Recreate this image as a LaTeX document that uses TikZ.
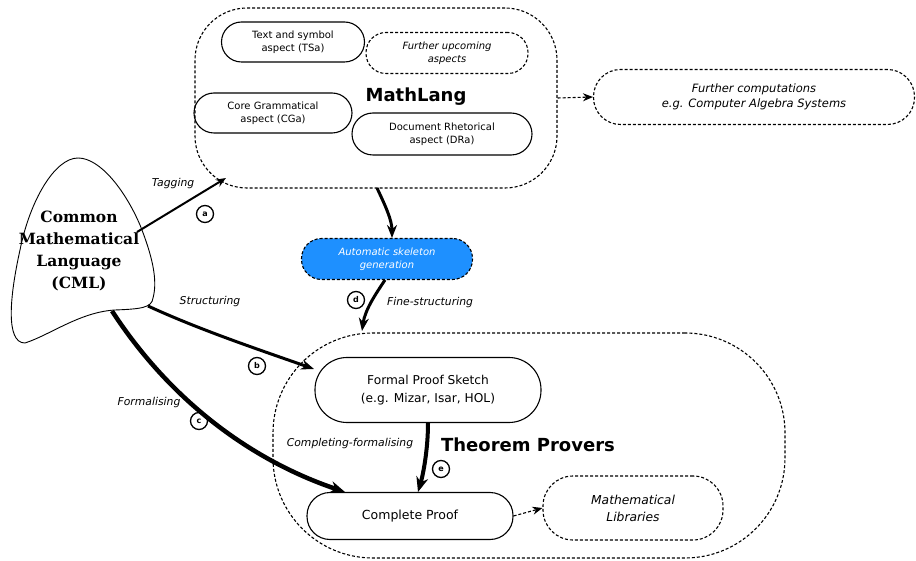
\documentclass[tikz,border=0pt]{standalone}
\usepackage{fontspec}
\setmainfont{DejaVu Sans}
\newfontfamily\cmlfont{DejaVu Serif}
\usetikzlibrary{arrows.meta}
\definecolor{skelblue}{HTML}{1E90FF}
\tikzset{
  dsh/.style={dash pattern=on 3pt off 2pt},
  pill/.style={draw, line width=1.1pt, align=center, inner sep=0pt, font=\fontsize{10}{12.5}\selectfont},
  dpill/.style={pill, dsh},
  cont/.style={draw, line width=1.1pt, dsh, inner sep=0pt},
  lbl/.style={font=\fontsize{10.8}{12}\selectfont\itshape},
  circ/.style={draw, circle, line width=1.3pt, minimum size=17pt, inner sep=0pt, font=\fontsize{8}{8}\selectfont\bfseries},
  big/.style={font=\fontsize{18}{20}\selectfont\bfseries},
  tipS/.style={-{Stealth[length=10pt,width=8pt]}},
  tipM/.style={-{Stealth[length=13pt,width=10pt]}},
  tipL/.style={-{Stealth[length=15pt,width=12pt]}},
}
\begin{document}
\begin{tikzpicture}[x=1pt,y=-1pt]
\useasboundingbox (0,0) rectangle (916,561);

% CML blob
\draw[line width=0.9pt] (78,158) .. controls (55,158) and (30,200) .. (20,250)
  .. controls (10,295) and (5,343) .. (25,343)
  .. controls (50,335) and (80,312) .. (115,310)
  .. controls (140,309) and (152,308) .. (153,298)
  .. controls (158,280) and (152,255) .. (140,225)
  .. controls (125,190) and (100,158) .. (78,158) -- cycle;
\node[align=center, font=\fontsize{15.5}{22}\selectfont\cmlfont\bfseries] (cml) at (79,251) {Common\\Mathematical\\Language\\(CML)};
\coordinate (cmlA) at (137,232);
\coordinate (cmlB) at (148,306);
\coordinate (cmlC) at (112,311);

% MathLang container
\node[cont, rounded corners=52pt, minimum width=362pt, minimum height=180pt] (ml) at (376,98) {};
\node[big] (mllbl) at (416,97) {MathLang};
\node[pill, rounded corners=20pt, minimum width=143pt, minimum height=40pt] (tsa) at (293,42) {Text and symbol\\aspect (TSa)};
\node[dpill, rounded corners=20pt, minimum width=162pt, minimum height=41pt, font=\fontsize{10}{12.5}\selectfont\itshape] (fua) at (447,53) {Further upcoming\\aspects};
\node[pill, rounded corners=20pt, minimum width=158pt, minimum height=40pt] (cga) at (273,113) {Core Grammatical\\aspect (CGa)};
\node[pill, rounded corners=21pt, minimum width=180pt, minimum height=42pt] (dra) at (442,134) {Document Rhetorical\\aspect (DRa)};

% Further computations
\node[dpill, rounded corners=27pt, minimum width=321pt, minimum height=55pt, font=\fontsize{11.5}{15.5}\selectfont\itshape] (fc) at (754,97) {Further computations\\e.g. Computer Algebra Systems};
\draw[line width=1.1pt, dsh, tipS] (ml.east) -- (fc.west);

% Skeleton
\node[dpill, fill=skelblue, text=white, rounded corners=20pt, minimum width=171pt, minimum height=41pt, font=\fontsize{10}{12.5}\selectfont\itshape] (skel) at (387,259) {Automatic skeleton\\generation};

% Theorem provers container
\node[cont, rounded corners=100pt, minimum width=512pt, minimum height=225pt] (tp) at (529,445.5) {};
\node[big] (tplbl) at (528,445) {Theorem Provers};
\node[pill, rounded corners=32pt, minimum width=226pt, minimum height=65pt, font=\fontsize{12.2}{18}\selectfont] (fps) at (428,390) {Formal Proof Sketch\\(e.g. Mizar, Isar, HOL)};
\node[pill, rounded corners=23pt, minimum width=206pt, minimum height=47pt, font=\fontsize{12.5}{14}\selectfont] (cp) at (410,516) {Complete Proof};
\node[dpill, rounded corners=30pt, minimum width=180pt, minimum height=64pt, font=\fontsize{12.3}{17}\selectfont\itshape] (lib) at (633,508) {Mathematical\\Libraries};
\draw[line width=1.1pt, dsh, tipS] (cp.east) -- (lib.west);

% arrows
\coordinate (mlA) at (226,178);
\coordinate (mlB) at (377,188);
\coordinate (skT) at (392,238);
\coordinate (skB) at (385,280);
\coordinate (tpT) at (362,331);
\coordinate (fpsW) at (314,369);
\coordinate (cpN) at (345,492);
\coordinate (fpsS) at (428,423);
\coordinate (cpT) at (418,492);

\draw[line width=2pt, tipS] (cmlA) -- (mlA);
\draw[line width=3pt, tipM] (mlB) .. controls (385,205) and (392,220) .. (skT);
\draw[line width=3pt, tipM] (skB) .. controls (375,295) and (365,310) .. (tpT);
\draw[line width=3pt, tipM] (cmlB) .. controls (200,330) and (260,350) .. (fpsW);
\draw[line width=4.5pt, tipL] (cmlC) .. controls (170,400) and (250,460) .. (cpN);
\draw[line width=4pt, tipL] (fpsS) .. controls (428,450) and (423,475) .. (cpT);

% labels
\node[lbl] (ltag) at (173,184) {Tagging};
\node[lbl] (lstr) at (210,302) {Structuring};
\node[lbl] (lfor) at (149,403) {Formalising};
\node[lbl] (lfin) at (430,303) {Fine-structuring};
\node[lbl] (lcom) at (350,444) {Completing-formalising};

\node[circ] (ca) at (205,214) {a};
\node[circ] (cb) at (257,366) {b};
\node[circ] (cc) at (199,421) {c};
\node[circ] (cd) at (356,300) {d};
\node[circ] (ce) at (441,469) {e};
\end{tikzpicture}
\end{document}
